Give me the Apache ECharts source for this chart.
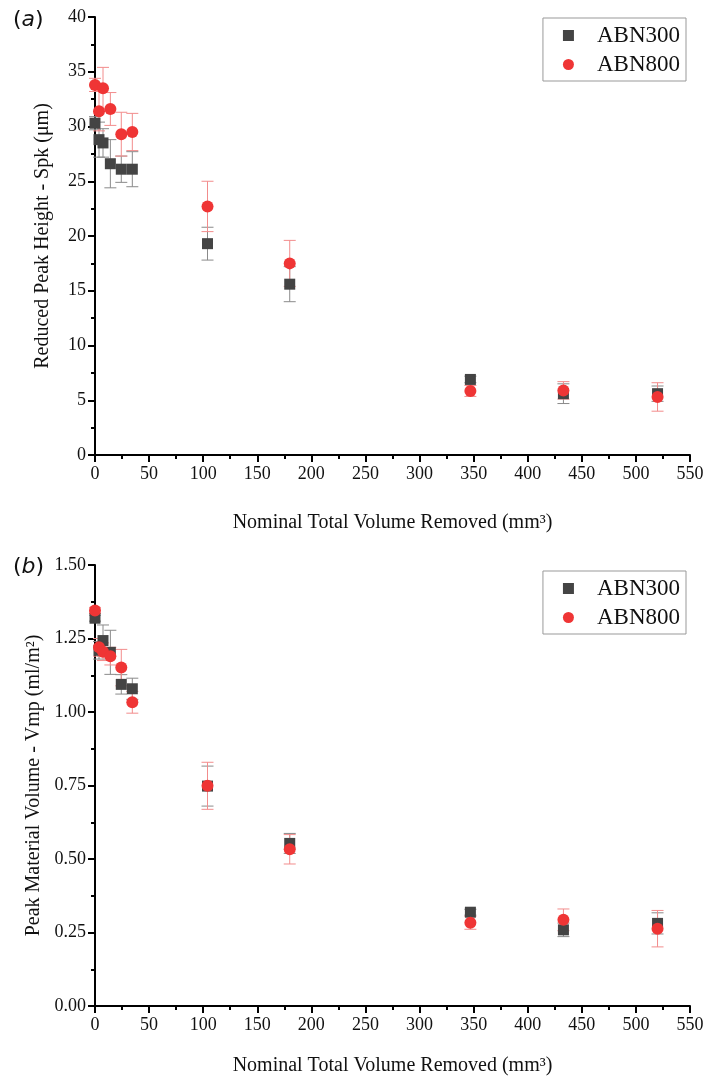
<!DOCTYPE html>
<html><head><meta charset="utf-8">
<script src="https://cdn.jsdelivr.net/npm/echarts@6/dist/echarts.min.js"></script>
<style>html,body{margin:0;padding:0;background:#fff}#c{width:708px;height:1084px}</style>
</head><body><div id="c"></div>
<script>
// Shared x positions (nominal total volume removed, mm^3)
const xVals = [0, 3.7, 7.4, 14.2, 24.3, 34.5, 104, 180, 347, 433, 520];

// (a) Spk (µm)
const spk300 = [30.3, 28.8, 28.5, 26.6, 26.1, 26.1, 19.3, 15.6, 6.9, 5.6, 5.6];
const spk300Err = [0.6, 1.6, 1.3, 2.2, 1.2, 1.6, 1.5, 1.6, 0.3, 0.9, 0.7];
const spk800 = [33.8, 31.4, 33.5, 31.6, 29.3, 29.5, 22.7, 17.5, 5.85, 5.9, 5.3];
const spk800Err = [0.6, 1.8, 1.9, 1.5, 2.0, 1.7, 2.3, 2.1, 0.5, 0.8, 1.3];

// (b) Vmp (ml/m^2)
const vmp300 = [1.319, 1.21, 1.243, 1.203, 1.094, 1.079, 0.748, 0.553, 0.319, 0.259, 0.281];
const vmp300Err = [0.01, 0.03, 0.053, 0.075, 0.033, 0.036, 0.068, 0.034, 0.01, 0.023, 0.036];
const vmp800 = [1.345, 1.22, 1.205, 1.19, 1.151, 1.033, 0.749, 0.533, 0.283, 0.293, 0.263];
const vmp800Err = [0.01, 0.03, 0.03, 0.03, 0.062, 0.037, 0.08, 0.05, 0.022, 0.037, 0.062];

const yTicksA = [0, 5, 10, 15, 20, 25, 30, 35, 40];
const yTicksB = [0, 0.25, 0.5, 0.75, 1.0, 1.25, 1.5];
const xTicks = [0, 50, 100, 150, 200, 250, 300, 350, 400, 450, 500, 550];

const C300 = '#444444', C800 = '#ef3535';
const E300 = '#8a8a8a', E800 = '#f28c8c';
const serif = 'Liberation Serif';

function pts(y) { return xVals.map((x, i) => [x, y[i]]); }
function errs(y, e) { return xVals.map((x, i) => [x, y[i] - e[i], y[i] + e[i]]); }

function errSeries(name, data, color, idx) {
  return {
    type: 'custom', name: name, xAxisIndex: idx, yAxisIndex: idx, silent: true, z: 1,
    data: data,
    renderItem: function (params, api) {
      const lo = api.coord([api.value(0), api.value(1)]);
      const hi = api.coord([api.value(0), api.value(2)]);
      const w = 6;
      const st = { stroke: color, lineWidth: 1 };
      return { type: 'group', children: [
        { type: 'line', shape: { x1: lo[0], y1: lo[1], x2: hi[0], y2: hi[1] }, style: st },
        { type: 'line', shape: { x1: lo[0] - w, y1: lo[1], x2: lo[0] + w, y2: lo[1] }, style: st },
        { type: 'line', shape: { x1: hi[0] - w, y1: hi[1], x2: hi[0] + w, y2: hi[1] }, style: st }
      ]};
    }
  };
}

function xAxis(idx, gap) {
  return {
    type: 'value', gridIndex: idx, min: xTicks[0], max: xTicks[xTicks.length - 1], interval: 50,
    name: 'Nominal Total Volume Removed (mm³)', nameLocation: 'middle', nameGap: gap,
    nameTextStyle: { fontFamily: serif, fontSize: 20, color: '#111' },
    axisLine: { onZero: false, lineStyle: { color: '#000', width: 2 } },
    axisTick: { inside: false, length: 7, lineStyle: { color: '#000', width: 2 } },
    minorTick: { show: true, splitNumber: 2, length: 4, lineStyle: { color: '#000', width: 2 } },
    axisLabel: { fontFamily: serif, fontSize: 18, color: '#111', margin: 10 },
    splitLine: { show: false }
  };
}

function yAxis(idx, ticks, interval, name, fmt) {
  return {
    type: 'value', gridIndex: idx, min: ticks[0], max: ticks[ticks.length - 1], interval: interval,
    name: name, nameLocation: 'middle', nameGap: 42,
    nameTextStyle: { fontFamily: serif, fontSize: 20, color: '#111' },
    axisLine: { show: true, lineStyle: { color: '#000', width: 2 } },
    axisTick: { show: true, inside: false, length: 7, lineStyle: { color: '#000', width: 2 } },
    minorTick: { show: true, splitNumber: 2, length: 4, lineStyle: { color: '#000', width: 2 } },
    axisLabel: { fontFamily: serif, fontSize: 18, color: '#111', margin: 9, formatter: fmt },
    splitLine: { show: false }
  };
}

function legend(top) {
  return {
    data: [{ name: 'ABN300', icon: 'rect' }, { name: 'ABN800', icon: 'circle' }],
    orient: 'vertical', right: 22, top: top,
    borderColor: '#999', borderWidth: 1, padding: [6, 6, 5, 20],
    itemWidth: 11, itemHeight: 11, itemGap: 6,
    textStyle: { fontFamily: serif, fontSize: 23, color: '#111', padding: [0, 0, 0, 18] }
  };
}

const titleRich = {
  p: { fontFamily: 'DejaVu Sans', fontSize: 22, fontWeight: 'normal', color: '#111' },
  i: { fontFamily: 'DejaVu Sans', fontSize: 22, fontWeight: 'normal', fontStyle: 'italic', color: '#111' }
};

const chart = echarts.init(document.getElementById('c'), null, { renderer: 'canvas' });
chart.setOption({
  backgroundColor: '#fff',
  animation: false,
  grid: [
    { left: 95, right: 18, top: 17, height: 438 },
    { left: 95, right: 18, top: 565, height: 441 }
  ],
  legend: [legend(18), legend(571)],
  title: [
    { text: '{p|(}{i|a}{p|)}', left: 8, top: 4, textStyle: { fontWeight: 'normal', rich: titleRich } },
    { text: '{p|(}{i|b}{p|)}', left: 8, top: 551, textStyle: { fontWeight: 'normal', rich: titleRich } }
  ],
  xAxis: [xAxis(0, 58), xAxis(1, 50)],
  yAxis: [
    yAxis(0, yTicksA, 5, 'Reduced Peak Height - Spk (μm)', v => String(v)),
    yAxis(1, yTicksB, 0.25, 'Peak Material Volume - Vmp (ml/m²)', v => v.toFixed(2))
  ],
  series: [
    errSeries('err300a', errs(spk300, spk300Err), E300, 0),
    errSeries('err800a', errs(spk800, spk800Err), E800, 0),
    errSeries('err300b', errs(vmp300, vmp300Err), E300, 1),
    errSeries('err800b', errs(vmp800, vmp800Err), E800, 1),
    { type: 'scatter', name: 'ABN300', xAxisIndex: 0, yAxisIndex: 0, symbol: 'rect', symbolSize: 11, itemStyle: { color: C300, opacity: 1 }, data: pts(spk300), z: 2 },
    { type: 'scatter', name: 'ABN800', xAxisIndex: 0, yAxisIndex: 0, symbol: 'circle', symbolSize: 12, itemStyle: { color: C800, opacity: 1 }, data: pts(spk800), z: 3 },
    { type: 'scatter', name: 'ABN300', xAxisIndex: 1, yAxisIndex: 1, symbol: 'rect', symbolSize: 11, itemStyle: { color: C300, opacity: 1 }, data: pts(vmp300), z: 2 },
    { type: 'scatter', name: 'ABN800', xAxisIndex: 1, yAxisIndex: 1, symbol: 'circle', symbolSize: 12, itemStyle: { color: C800, opacity: 1 }, data: pts(vmp800), z: 3 }
  ]
});
</script></body></html>
